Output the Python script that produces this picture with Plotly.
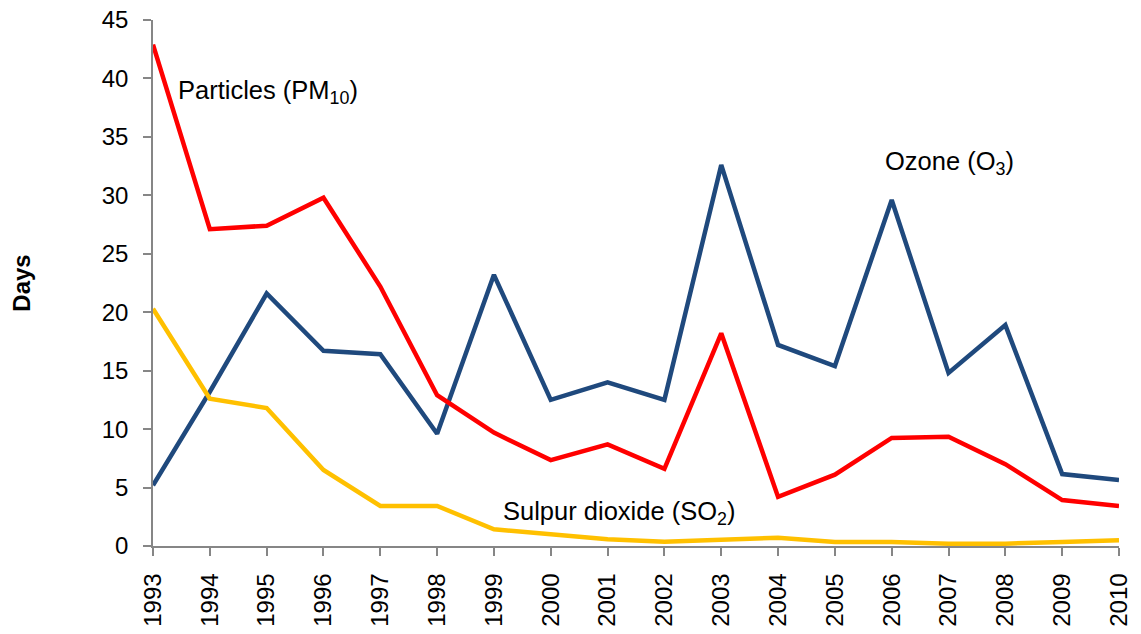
import plotly.graph_objects as go

years = list(range(1993, 2011))
pm10 = [42.9, 27.1, 27.4, 29.8, 22.2, 12.9, 9.7, 7.35, 8.7, 6.6, 18.2, 4.2, 6.1, 9.25, 9.35, 7.0, 3.93, 3.42]
ozone = [5.2, 13.2, 21.6, 16.7, 16.4, 9.6, 23.2, 12.5, 14.0, 12.5, 32.6, 17.2, 15.4, 29.6, 14.8, 18.9, 6.15, 5.64]
so2 = [20.3, 12.6, 11.8, 6.5, 3.42, 3.42, 1.43, 1.03, 0.57, 0.37, 0.5, 0.7, 0.35, 0.35, 0.2, 0.2, 0.35, 0.5]
y_ticks = [0, 5, 10, 15, 20, 25, 30, 35, 40, 45]

FONT = "Liberation Sans, Arial, sans-serif"

fig = go.Figure()
fig.add_trace(go.Scatter(x=years, y=ozone, mode="lines", line=dict(color="#1F497D", width=4.5), name="Ozone"))
fig.add_trace(go.Scatter(x=years, y=pm10, mode="lines", line=dict(color="#FF0000", width=4.5), name="PM10"))
fig.add_trace(go.Scatter(x=years, y=so2, mode="lines", line=dict(color="#FFC000", width=4.5), name="SO2"))

ann_font = dict(family=FONT, size=25.5, color="#000000")
fig.add_annotation(x=1993.4, y=38.8, text="Particles (PM<sub>10</sub>)", showarrow=False,
                   xanchor="left", yanchor="middle", font=ann_font)
fig.add_annotation(x=2005.85, y=32.8, text="Ozone (O<sub>3</sub>)", showarrow=False,
                   xanchor="left", yanchor="middle", font=ann_font)
fig.add_annotation(x=1999.12, y=2.8, text="Sulpur dioxide (SO<sub>2</sub>)", showarrow=False,
                   xanchor="left", yanchor="middle", font=ann_font)

fig.update_layout(
    width=1141, height=634,
    margin=dict(l=153, r=22, t=20, b=88),
    paper_bgcolor="white", plot_bgcolor="white",
    showlegend=False,
    font=dict(family=FONT, color="#000000"),
)
fig.update_xaxes(
    range=[1993, 2010], tickmode="array", tickvals=years, ticktext=[str(y) for y in years],
    tickangle=-90, tickfont=dict(family=FONT, size=24, color="#000000"),
    ticklabelstandoff=8, ticklabeloverflow="allow", automargin=False,
    showline=True, linecolor="#868686", linewidth=1.5,
    ticks="outside", ticklen=8, tickcolor="#868686", tickwidth=1.5,
    showgrid=False, zeroline=False,
)
fig.update_yaxes(
    range=[0, 45], tickmode="array", tickvals=y_ticks,
    tickfont=dict(family=FONT, size=24, color="#000000"),
    ticklabelstandoff=10, ticklabeloverflow="allow", automargin=False,
    showline=True, linecolor="#868686", linewidth=1.5,
    ticks="outside", ticklen=8, tickcolor="#868686", tickwidth=1.5,
    showgrid=False, zeroline=False,
    title=dict(text="<b>Days</b>", font=dict(family=FONT, size=24, color="#000000"), standoff=64),
)

# remove the default 8px page margin so the figure fills the window exactly
fig.write_html("out.html", config={"displayModeBar": False},
               post_script="document.body.style.margin='0';")
